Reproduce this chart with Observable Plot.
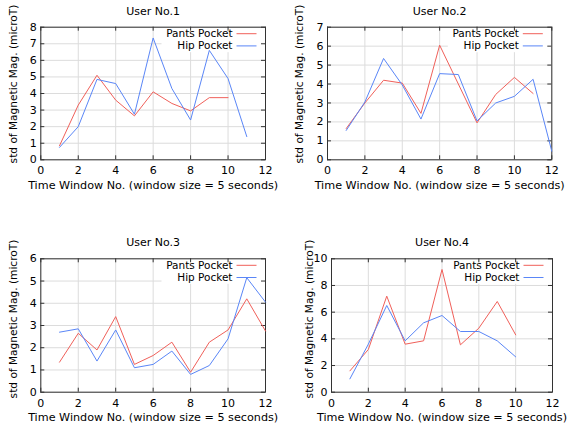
<!DOCTYPE html>
<html><head><meta charset="utf-8">
<script src="https://cdn.jsdelivr.net/npm/d3@7"></script>
<script src="https://cdn.jsdelivr.net/npm/@observablehq/plot@0.6"></script>
<style>
body{margin:0;background:#fff;}
#wrap{position:relative;width:574px;height:425px;overflow:hidden;background:#fff;}
#wrap svg{position:absolute;overflow:visible;}
</style></head><body><div id="wrap"></div>
<script>
const windowNo = [1, 2, 3, 4, 5, 6, 7, 8, 9, 10, 11, 12];
const xTicks = [0, 2, 4, 6, 8, 10, 12];
const titles = ["User No.1", "User No.2", "User No.3", "User No.4"];
const xLabel = "Time Window No. (window size = 5 seconds)";
const yLabel = "std of Magnetic Mag. (microT)";
const seriesNames = ["Pants Pocket", "Hip Pocket"];
const seriesColors = ["#f0605a", "#5a86f7"];

const u1Pants = [0.85, 3.3, 5.1, 3.6, 2.65, 4.1, 3.4, 2.95, 3.75, 3.75];
const u1Hip   = [0.75, 2.0, 4.85, 4.6, 2.75, 7.35, 4.3, 2.4, 6.6, 4.9, 1.4];
const u2Pants = [1.65, 3.0, 4.2, 4.05, 2.45, 6.05, 4.0, 1.95, 3.45, 4.35, 3.5];
const u2Hip   = [1.55, 3.05, 5.35, 3.95, 2.15, 4.55, 4.5, 2.05, 3.0, 3.35, 4.25, 0.45];
const u3Pants = [1.35, 2.65, 1.9, 3.4, 1.25, 1.65, 2.25, 0.9, 2.25, 2.8, 4.2, 2.75];
const u3Hip   = [2.7, 2.85, 1.4, 2.8, 1.1, 1.25, 1.85, 0.8, 1.2, 2.4, 5.15, 4.05];
const u4Pants = [1.6, 3.2, 7.2, 3.6, 3.85, 9.2, 3.55, 4.8, 6.8, 4.3];
const u4Hip   = [1.0, 3.6, 6.5, 3.85, 5.2, 5.75, 4.55, 4.55, 3.85, 2.65];

const yTicks1 = [0, 1, 2, 3, 4, 5, 6, 7, 8];
const yTicks2 = [0, 1, 2, 3, 4, 5, 6, 7];
const yTicks3 = [0, 1, 2, 3, 4, 5, 6];
const yTicks4 = [0, 2, 4, 6, 8, 10];

const panels = [
  {title: titles[0], series: [u1Pants, u1Hip], yTicks: yTicks1, left: 0, top: 0, W: 287, H: 212, mL: 40.3, mR: 22, mT: 26.7, mB: 52.7, ylDx: -27.3, ylDy: -9.5},
  {title: titles[1], series: [u2Pants, u2Hip], yTicks: yTicks2, left: 287, top: 0, W: 287, H: 212, mL: 40, mR: 22.7, mT: 26.7, mB: 52.7, ylDx: -27.5, ylDy: -9.5},
  {title: titles[2], series: [u3Pants, u3Hip], yTicks: yTicks3, left: 0, top: 212, W: 287, H: 213, mL: 40.3, mR: 22, mT: 46.3, mB: 33.3, ylDx: -27.3, ylDy: -6.5},
  {title: titles[3], series: [u4Pants, u4Hip], yTicks: yTicks4, left: 287, top: 212, W: 287, H: 213, mL: 44, mR: 22, mT: 46.3, mB: 33.3, ylDx: -22, ylDy: -6.5}
];

const wrap = document.getElementById("wrap");
const FONT = "DejaVu Sans";
const fmt = d => String(d);

for (const p of panels) {
  const plotW = p.W - p.mL - p.mR;
  const plotH = p.H - p.mT - p.mB;
  const yMax = p.yTicks[p.yTicks.length - 1];
  const lineMarks = [];
  const legendMarks = [];
  p.series.forEach((vals, si) => {
    const data = vals.map((v, i) => ({x: windowNo[i], y: v}));
    lineMarks.push(Plot.line(data, {x: "x", y: "y", stroke: seriesColors[si], strokeWidth: 1}));
    const rowY = 6.5 + si * 12.2;
    legendMarks.push(Plot.frame({fill: seriesColors[si], stroke: "none",
      insetLeft: plotW - 29, insetRight: 9, insetTop: rowY - 0.5, insetBottom: plotH - rowY - 0.5}));
    legendMarks.push(Plot.text([seriesNames[si]], {text: d => d, frameAnchor: "top-right",
      dx: -33, dy: rowY, textAnchor: "end", lineAnchor: "middle", fill: "#000", fontSize: 10.5}));
  });

  const chart = Plot.plot({
    width: p.W, height: p.H,
    marginLeft: p.mL, marginRight: p.mR, marginTop: p.mT, marginBottom: p.mB,
    style: {fontFamily: FONT, fontSize: "11px", color: "#000", background: "transparent"},
    x: {domain: [0, 12], ticks: xTicks, tickFormat: fmt, tickSize: 0, tickPadding: 6.5, label: null},
    y: {domain: [0, yMax], ticks: p.yTicks, tickFormat: fmt, tickSize: 0, tickPadding: 4, label: null},
    marks: [
      Plot.gridX(xTicks, {stroke: "#dcdcdc", strokeOpacity: 1}),
      Plot.gridY(p.yTicks, {stroke: "#dcdcdc", strokeOpacity: 1}),
      Plot.frame({fill: "white", stroke: "none", insetLeft: plotW - 104, insetRight: 1, insetTop: 1, insetBottom: plotH - 25}),
      Plot.ruleX(xTicks, {x: d => d, insetTop: plotH - 4, stroke: "#333"}),
      Plot.ruleX(xTicks, {x: d => d, insetBottom: plotH - 4, stroke: "#333"}),
      Plot.ruleY(p.yTicks, {y: d => d, insetRight: plotW - 4, stroke: "#333"}),
      Plot.ruleY(p.yTicks, {y: d => d, insetLeft: plotW - 4, stroke: "#333"}),
      Plot.frame({stroke: "#333", strokeWidth: 1}),
      ...lineMarks,
      ...legendMarks,
      Plot.text([p.title], {text: d => d, frameAnchor: "top", dy: -16, lineAnchor: "middle", fill: "#000", fontSize: 11}),
      Plot.text([xLabel], {text: d => d, frameAnchor: "bottom", dy: 25.5, lineAnchor: "middle", fill: "#000", fontSize: 11.2}),
      Plot.text([yLabel], {text: d => d, frameAnchor: "left", rotate: -90, dx: p.ylDx, dy: p.ylDy, lineAnchor: "middle", textAnchor: "middle", fill: "#000", fontSize: 10.6})
    ]
  });
  chart.style.left = p.left + "px";
  chart.style.top = p.top + "px";
  wrap.appendChild(chart);
}
</script>
</body></html>
